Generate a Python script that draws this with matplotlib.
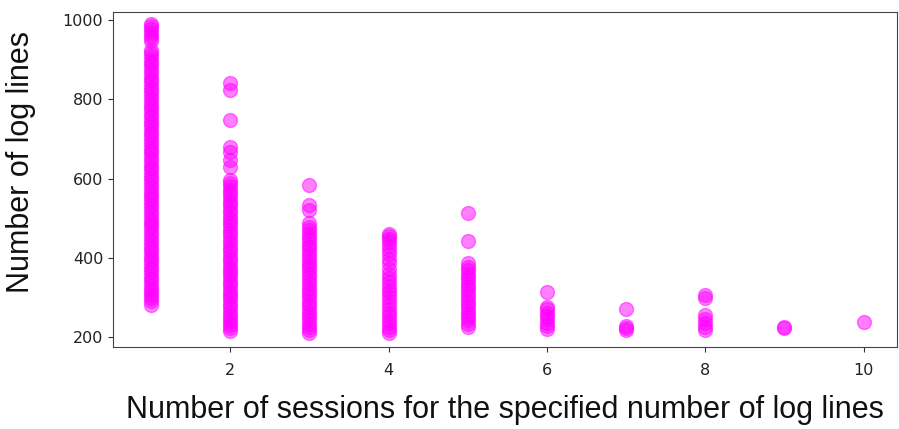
import matplotlib
matplotlib.use("Agg")
import matplotlib.pyplot as plt

# Number of log lines observed for each session count
lines_1 = [282, 290, 298, 305, 313, 322, 330, 338, 347, 355, 363, 372, 380, 389,
           397, 405, 414, 422, 431, 440, 448, 457, 465, 474, 482, 491, 499, 508,
           516, 525, 533, 542, 550, 559, 567, 576, 584, 593, 601, 610, 618, 627,
           635, 644, 652, 661, 670, 678, 687, 695, 704, 712, 721, 729, 738, 746,
           755, 763, 772, 780, 789, 797, 806, 815, 823, 832, 840, 849, 857, 866,
           874, 883, 891, 900, 908, 916, 925, 948, 955, 962, 970, 978, 985, 990]
lines_2 = [215, 222, 230, 238, 246, 254, 262, 270, 278, 287, 295, 303, 311, 320,
           328, 336, 345, 353, 361, 370, 378, 386, 395, 403, 412, 420, 428, 437,
           445, 454, 462, 470, 479, 487, 496, 504, 512, 521, 530, 538, 546, 555,
           563, 572, 580, 588, 597, 629, 646, 667, 680, 747, 823, 841]
lines_3 = [210, 218, 226, 234, 242, 250, 258, 266, 275, 283, 292, 300, 308, 317,
           325, 334, 342, 351, 359, 368, 376, 385, 393, 402, 410, 419, 427, 436,
           444, 453, 461, 470, 478, 487, 520, 533, 583]
lines_4 = [210, 218, 226, 235, 244, 253, 262, 271, 280, 290, 300, 310, 320, 330,
           340, 350, 360, 372, 386, 398, 410, 420, 430, 440, 448, 455, 460]
lines_5 = [225, 233, 242, 250, 258, 266, 275, 283, 292, 300, 309, 318, 326, 335,
           344, 352, 360, 369, 378, 386, 442, 512]
lines_6 = [220, 228, 236, 245, 253, 262, 270, 276, 313]
lines_7 = [218, 222, 228, 272]
lines_8 = [218, 225, 235, 245, 255, 298, 307]
lines_9 = [222, 226]
lines_10 = [238]

groups = [lines_1, lines_2, lines_3, lines_4, lines_5,
          lines_6, lines_7, lines_8, lines_9, lines_10]
session_counts = list(range(1, len(groups) + 1))

xs, ys = [], []
for count, vals in zip(session_counts, groups):
    xs.extend([count] * len(vals))
    ys.extend(vals)

fig = plt.figure(figsize=(8.99, 4.29), dpi=100)
ax = fig.add_axes([0.1257, 0.1911, 0.872, 0.781])

ax.scatter(xs, ys, s=100, color="#ff00ff", alpha=0.5, linewidths=1.0)

ax.set_xlim(0.52, 10.42)
ax.set_ylim(175, 1020)
ax.set_xticks([2, 4, 6, 8, 10])
ax.set_yticks([200, 400, 600, 800, 1000])
ax.tick_params(labelsize=11.5, colors="#333333", labelcolor="#222222")
ax.tick_params(axis="x", pad=8)
for sp in ax.spines.values():
    sp.set_color("#444444")

label_font = dict(family="Liberation Sans", size=22, color="#111111")
ax.set_xlabel("Number of sessions for the specified number of log lines",
              fontdict=label_font, labelpad=12)
ax.set_ylabel("Number of log lines", fontdict=label_font)
ax.yaxis.set_label_coords(-0.098, 0.552)

fig.savefig("out.png", dpi=100)
